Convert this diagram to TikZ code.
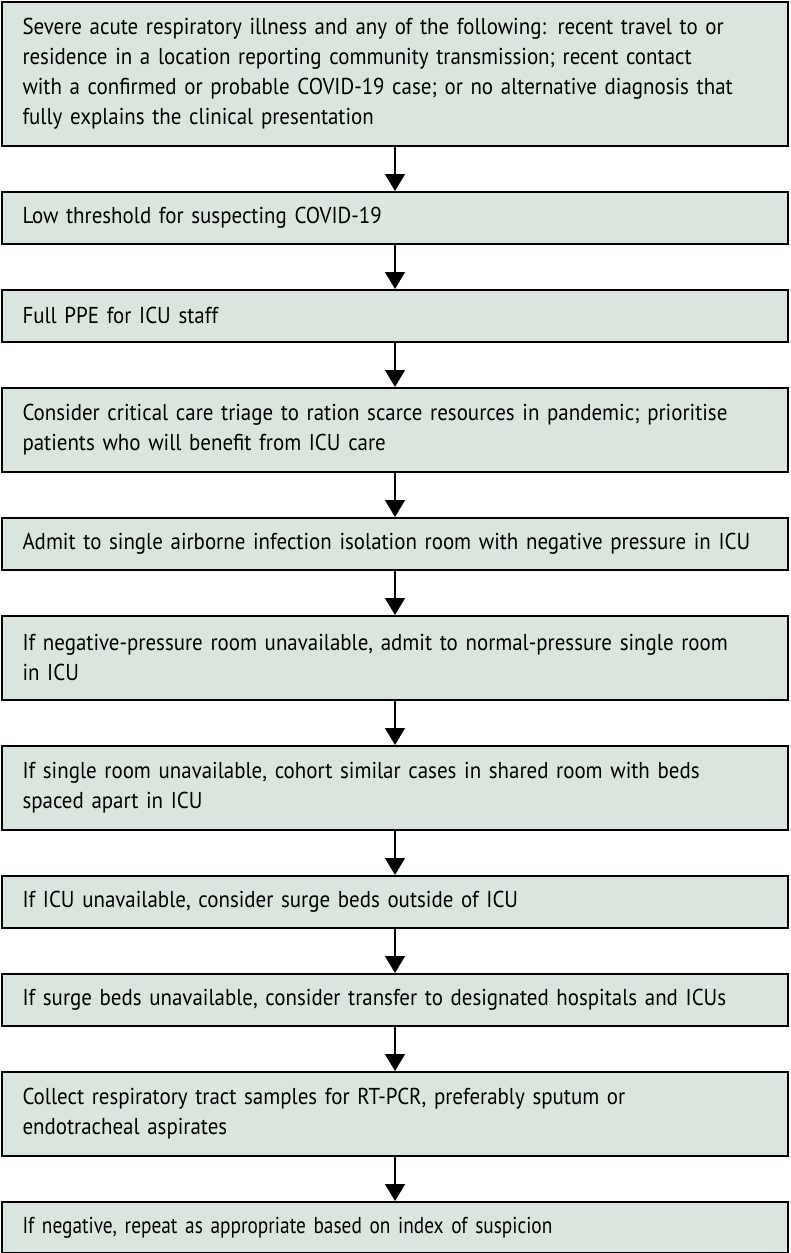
\documentclass[tikz,border=0pt]{standalone}
\usepackage{fontspec}
\setmainfont{PT Sans}[FakeStretch=0.91]
\newfontfamily\narrowfont{PT Sans}[FakeStretch=0.84]
\usetikzlibrary{arrows.meta}
\definecolor{boxfill}{RGB}{218,229,222}
\begin{document}
\begin{tikzpicture}[x=1pt,y=1pt,
  stepbox/.style={draw=black, line width=1.8pt, fill=boxfill, anchor=north,
    minimum width=786pt, text width=745pt, inner xsep=20.5pt, inner ysep=0pt,
    align=left, font=\fontsize{23}{30}\selectfont},
  arr/.style={line width=1.5pt, -{Triangle[width=20pt,length=17pt]}}]
\useasboundingbox (0,0) rectangle (790,-1253);
%%% Boxes of the flow, top to bottom
\node[stepbox, minimum height=144pt] (b1) at (395,-1)
{Severe acute respiratory illness and any of the following: recent travel to or\\
residence in a location reporting community transmission; recent contact\\
with a confirmed or probable COVID-19 case; or no alternative diagnosis that\\
fully explains the clinical presentation};
\node[stepbox, minimum height=52pt] (b2) at (395,-191)
{Low threshold for suspecting COVID-19};
\node[stepbox, minimum height=52pt] (b3) at (395,-289)
{Full PPE for ICU staff};
\node[stepbox, minimum height=84pt] (b4) at (395,-387)
{Consider critical care triage to ration scarce resources in pandemic; prioritise\\
patients who will benefit from ICU care};
\node[stepbox, minimum height=52pt] (b5) at (395,-517)
{Admit to single airborne infection isolation room with negative pressure in ICU};
\node[stepbox, minimum height=84pt] (b6) at (395,-615)
{If negative-pressure room unavailable, admit to normal-pressure single room\\
in ICU};
\node[stepbox, minimum height=84pt] (b7) at (395,-745)
{If single room unavailable, cohort similar cases in shared room with beds\\
spaced apart in ICU};
\node[stepbox, minimum height=52pt] (b8) at (395,-875)
{If ICU unavailable, consider surge beds outside of ICU};
\node[stepbox, minimum height=52pt] (b9) at (395,-973)
{If surge beds unavailable, consider transfer to designated hospitals and ICUs};
\node[stepbox, minimum height=84pt] (b10) at (395,-1071)
{Collect respiratory tract samples for RT-PCR, preferably sputum or\\
endotracheal aspirates};
\node[stepbox, minimum height=51pt] (b11) at (395,-1201)
{\narrowfont If negative, repeat as appropriate based on index of suspicion};
%Arrows between the boxes
\draw[arr] (b1)  --  (b2) ;
\draw[arr] (b2)  --  (b3) ;
\draw[arr] (b3)  --  (b4) ;
\draw[arr] (b4)  --  (b5) ;
\draw[arr] (b5)  --  (b6) ;
\draw[arr] (b6)  --  (b7) ;
\draw[arr] (b7)  --  (b8) ;
\draw[arr] (b8)  --  (b9) ;
\draw[arr] (b9)  --  (b10) ;
\draw[arr] (b10)  --  (b11) ;
\end{tikzpicture}
\end{document}
